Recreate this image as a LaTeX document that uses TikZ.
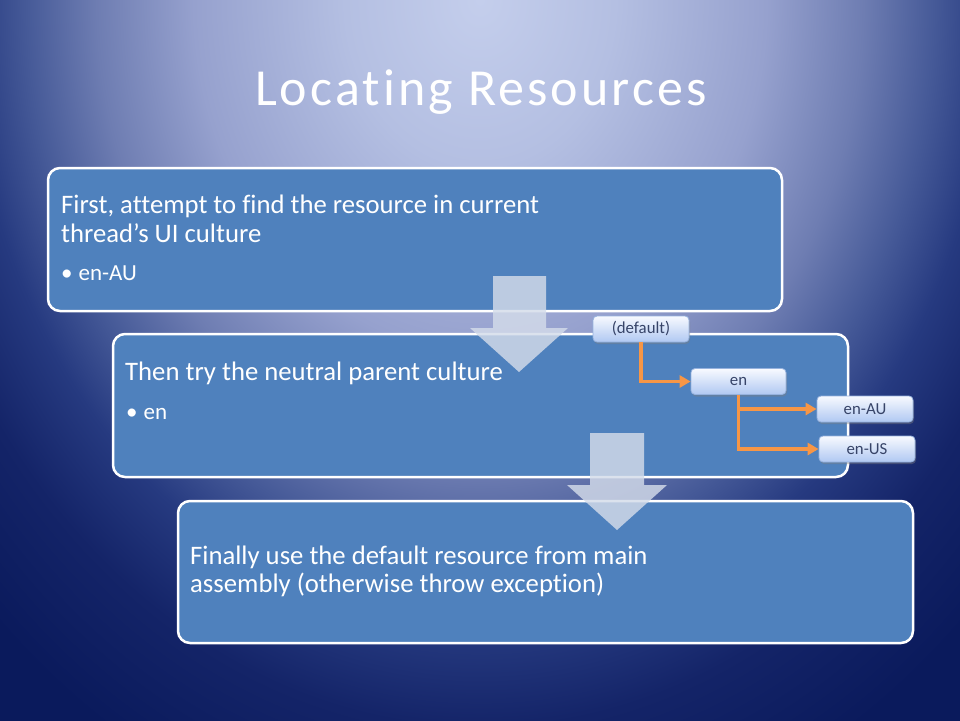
\documentclass[tikz,border=0pt]{standalone}
\usepackage{fontspec}
\setmainfont{Carlito}[Ligatures=NoCommon]
\newfontfamily\headfont{Carlito}[Ligatures=NoCommon,LetterSpace=6]
\usetikzlibrary{arrows.meta,shadows}
\definecolor{bgIn}{RGB}{196,206,236}
\definecolor{bgA}{RGB}{180,191,226}
\definecolor{bgB}{RGB}{150,161,206}
\definecolor{bgC}{RGB}{110,125,178}
\definecolor{bgD}{RGB}{70,90,152}
\definecolor{bgE}{RGB}{38,58,128}
\definecolor{bgF}{RGB}{20,36,104}
\definecolor{bgOut}{RGB}{10,26,92}
\definecolor{boxBlue}{RGB}{79,129,189}
\definecolor{arrowGrey}{RGB}{212,220,234}
\definecolor{cultTop}{RGB}{248,250,255}
\definecolor{cultBot}{RGB}{176,200,242}
\definecolor{cultEdge}{RGB}{150,178,222}
\definecolor{cultText}{RGB}{55,68,104}
\definecolor{linkOrange}{RGB}{247,150,70}
\pgfdeclareradialshading{slideglow}{\pgfpoint{0bp}{0bp}}{color(0bp)=(bgIn); color(4.8bp)=(bgA); color(10.2bp)=(bgB); color(13.65bp)=(bgC); color(16.15bp)=(bgD); color(18.3bp)=(bgE); color(21.15bp)=(bgF); color(25bp)=(bgOut); color(50bp)=(bgOut)}
\begin{document}
\begin{tikzpicture}[x=1pt,y=-1pt,
	stepbox/.style={draw=white,line width=2.5pt,fill=boxBlue,rounded corners=12pt},
	bigtxt/.style={anchor=base west,text=white,inner sep=0pt,font=\fontsize{26.7}{29}\selectfont},
	bullettxt/.style={anchor=base west,text=white,inner sep=0pt,font=\fontsize{23}{26}\selectfont},
	flowdown/.style={fill=arrowGrey,fill opacity=0.82},
	culture/.style={draw=cultEdge,line width=0.8pt,rounded corners=4pt,top color=cultTop,bottom color=cultBot,text=cultText,font=\fontsize{16.8}{19}\selectfont,minimum width=96pt,minimum height=26pt,inner sep=0pt,drop shadow={shadow xshift=1pt,shadow yshift=-2pt,opacity=0.4}},
	link/.style={draw=linkOrange,line width=3.5pt,-{Triangle[length=11pt,width=12pt]}}]
		\useasboundingbox (0,0) rectangle (960,720);
		\begin{scope}
			\clip (0,0) rectangle (960,720);
			\fill[bgOut] (0,0) rectangle (960,720);
			\shade[shading=slideglow] (-222,-860) rectangle (1182,860);
		\end{scope}
		\node[anchor=base,text=white,inner sep=0pt,font=\headfont\fontsize{52}{60}\selectfont] (title) at (481,105) {Locating Resources};
		\draw[stepbox] (48,168) rectangle (782,311);
		\draw[stepbox] (113,334) rectangle (848,477);
		\draw[stepbox] (178,501) rectangle (913,643);
		\node[bigtxt] (firstA) at (61,213) {First, attempt to find the resource in current};
		\node[bigtxt] (firstB) at (61,242) {thread’s UI culture};
		\node[bullettxt] (firstC) at (61,280) {•\hspace{6pt}en-AU};
		\node[bigtxt] (thenA) at (125,380) {Then try the neutral parent culture};
		\node[bullettxt] (thenB) at (126,419) {•\hspace{6pt}en};
		\node[bigtxt] (finA) at (190,564) {Finally use the default resource from main};
		\node[bigtxt] (finB) at (190,592) {assembly (otherwise throw exception)};
		\fill[flowdown] (493,276) -- (546,276) -- (546,328) -- (568,328) -- (519,372) -- (470,328) -- (493,328) -- cycle;
		\fill[flowdown] (590,433) -- (644,433) -- (644,485) -- (667,485) -- (617,530) -- (567,485) -- (590,485) -- cycle;
		\node[culture] (def) at (641,329) {(default)};
		\node[culture,minimum width=95pt] (en) at (738.5,381.5) {en};
		\node[culture] (enAU) at (865,409) {en-AU};
		\node[culture] (enUS) at (867,449) {en-US};
		\draw[link] (def.south) |- (en.west);
		\draw[link] (en.south) |- (enAU.west);
		\draw[link] (en.south) |- (enUS.west);
	\end{tikzpicture}
\end{document}
